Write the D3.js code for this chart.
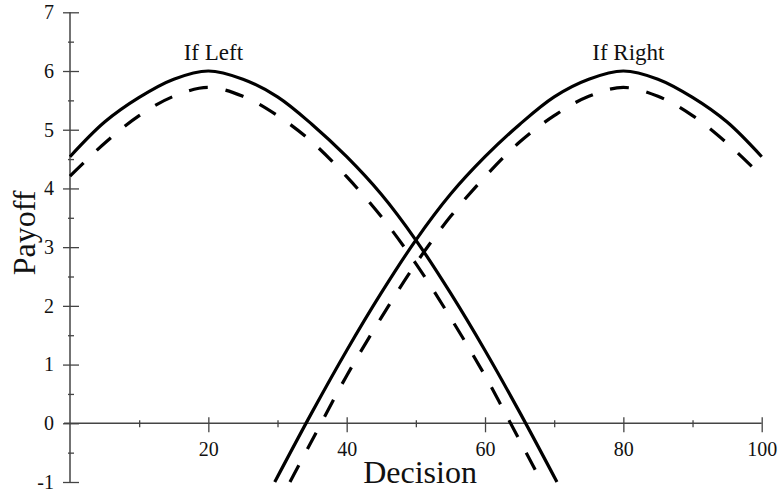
<!DOCTYPE html>
<html>
<head>
<meta charset="utf-8">
<script src="https://cdn.jsdelivr.net/npm/d3@7"></script>
<style>
  body { margin: 0; background: #fff; }
  svg { display: block; }
  text { font-family: 'Liberation Serif', 'Times New Roman', serif; fill: #111; }
</style>
</head>
<body>
<svg width="779" height="496"></svg>
<script>
// values
var leftSolidX = [0, 5, 10, 15, 20, 25, 30, 35, 40, 45, 50, 55, 60, 65, 70.4];
var leftSolidY = [4.54, 5.13, 5.55, 5.86, 6.00, 5.86, 5.56, 5.09, 4.54, 3.90, 3.12, 2.22, 1.24, 0.19, -1.00];
var leftDashX = [0, 5, 10, 15, 20, 25, 30, 35, 40, 45, 50, 55, 60, 65, 68.2];
var leftDashY = [4.21, 4.77, 5.24, 5.57, 5.72, 5.57, 5.24, 4.79, 4.20, 3.52, 2.72, 1.80, 0.81, -0.29, -1.00];
var rightSolidX = [29.6, 35, 40, 45, 50, 55, 60, 65, 70, 75, 80, 85, 90, 95, 100];
var rightSolidY = [-1.00, 0.19, 1.24, 2.22, 3.12, 3.90, 4.54, 5.09, 5.56, 5.86, 6.00, 5.86, 5.55, 5.13, 4.54];
var rightDashX = [31.8, 35, 40, 45, 50, 55, 60, 65, 70, 75, 80, 85, 90, 95, 100];
var rightDashY = [-1.00, -0.29, 0.81, 1.80, 2.72, 3.52, 4.20, 4.79, 5.24, 5.57, 5.72, 5.57, 5.24, 4.77, 4.21];

var xMajor = [20, 40, 60, 80, 100];
var xMinor = [10, 30, 50, 70, 90];
var yMajor = [-1, 0, 1, 2, 3, 4, 5, 6, 7];
var yMinor = [-0.5, 0.5, 1.5, 2.5, 3.5, 4.5, 5.5, 6.5];

var curveLabels = [{text: 'If Left', x: 20}, {text: 'If Right', x: 80}];

var svg = d3.select('svg');

var xScale = d3.scaleLinear().domain([0, 100]).range([70, 761.7]);
var yScale = d3.scaleLinear().domain([-1, 7]).range([482, 12.3]);

var axisColor = '#444';
var plainNum = d => String(d);   // keeps the hyphen in "-1"

// x axis sits on y = 0
var xAxisG = svg.append('g')
  .attr('transform', `translate(0, ${yScale(0)})`)
  .call(d3.axisBottom(xScale).tickValues(xMajor).tickSize(9).tickFormat(plainNum));
xAxisG.select('.domain').attr('stroke', axisColor).attr('stroke-width', 1.5).attr('d', `M${xScale(0) - 6},0H${xScale(100)}`);
xAxisG.selectAll('.tick line').attr('stroke', axisColor).attr('stroke-width', 1.3).attr('y1', -6);
xAxisG.selectAll('.tick text').attr('y', 19).attr('font-size', 20).attr('fill', '#111');

var xMinorG = svg.append('g')
  .attr('transform', `translate(0, ${yScale(0)})`)
  .call(d3.axisBottom(xScale).tickValues(xMinor).tickSize(4).tickFormat(''));
xMinorG.select('.domain').remove();
xMinorG.selectAll('.tick line').attr('stroke', axisColor).attr('stroke-width', 1.3).attr('y1', -3);

// y axis at x = 0
var yAxisG = svg.append('g')
  .attr('transform', `translate(${xScale(0)}, 0)`)
  .call(d3.axisLeft(yScale).tickValues(yMajor).tickSize(7).tickPadding(9).tickFormat(plainNum));
yAxisG.select('.domain').attr('stroke', axisColor).attr('stroke-width', 1.5).attr('d', `M0,${yScale(7)}V${yScale(-1)}`);
yAxisG.selectAll('.tick line').attr('stroke', axisColor).attr('stroke-width', 1.3).attr('x1', 9);
yAxisG.selectAll('.tick text').attr('font-size', 20).attr('fill', '#111');

var yMinorG = svg.append('g')
  .attr('transform', `translate(${xScale(0)}, 0)`)
  .call(d3.axisLeft(yScale).tickValues(yMinor).tickSize(2).tickFormat(''));
yMinorG.select('.domain').remove();
yMinorG.selectAll('.tick line').attr('stroke', axisColor).attr('stroke-width', 1.3).attr('x1', 4);

// curves
var line = d3.line()
  .x(d => xScale(d[0]))
  .y(d => yScale(d[1]))
  .curve(d3.curveCatmullRom.alpha(0.5));

var series = [
  {xs: leftSolidX, ys: leftSolidY, dash: null},
  {xs: leftDashX, ys: leftDashY, dash: '19,18'},
  {xs: rightSolidX, ys: rightSolidY, dash: null},
  {xs: rightDashX, ys: rightDashY, dash: '19,18'}
];

svg.append('g').selectAll('path')
  .data(series)
  .enter()
  .append('path')
  .attr('d', s => line(d3.zip(s.xs, s.ys)))
  .attr('fill', 'none')
  .attr('stroke', '#000')
  .attr('stroke-width', 3.2)
  .attr('stroke-dasharray', s => s.dash);

// curve labels
svg.selectAll('.curve-label')
  .data(curveLabels)
  .enter()
  .append('text')
  .attr('class', 'curve-label')
  .attr('x', d => xScale(d.x) + 5)
  .attr('y', 60)
  .attr('text-anchor', 'middle')
  .attr('font-size', 23)
  .text(d => d.text);

// axis titles
svg.append('text')
  .attr('x', 420)
  .attr('y', 483)
  .attr('text-anchor', 'middle')
  .attr('font-size', 32)
  .text('Decision');

svg.append('text')
  .attr('transform', 'translate(35, 233) rotate(-90)')
  .attr('text-anchor', 'middle')
  .attr('font-size', 32)
  .text('Payoff');
</script>
</body>
</html>
